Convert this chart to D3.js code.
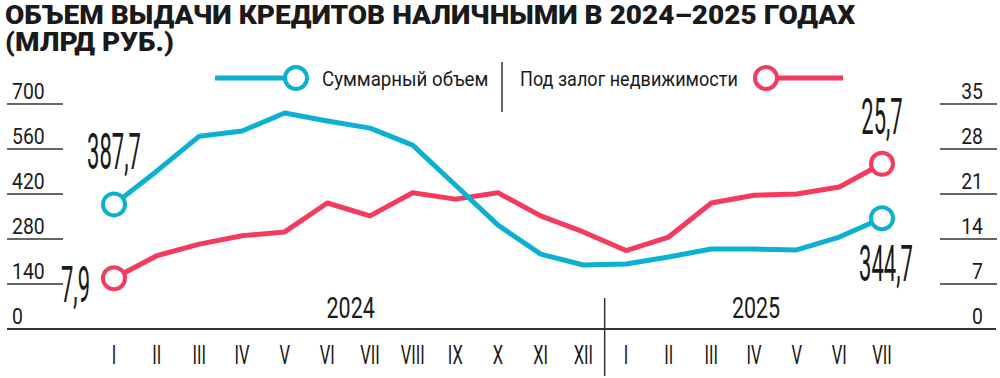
<!DOCTYPE html>
<html>
<head>
<meta charset="utf-8">
<script src="https://cdn.jsdelivr.net/npm/d3@7"></script>
<style>
  body { margin: 0; background: #fff; }
  svg { display: block; font-family: Roboto, "Noto Sans", sans-serif; }
  text { fill: #1a1a1a; }
</style>
</head>
<body>
<div id="chart"></div>
<script>
// month labels for Jan 2024 .. Jul 2025
const months = ["I", "II", "III", "IV", "V", "VI", "VII", "VIII", "IX", "X", "XI", "XII",
                "I", "II", "III", "IV", "V", "VI", "VII"];
const years = ["2024", "2025"];
// Суммарный объем, млрд руб. (left axis)
const totalVolume = [387.7, 491, 600, 616, 672, 647, 625, 572, 448, 323, 233, 199,
                     202, 224, 249, 249, 246, 286, 344.7];
// Под залог недвижимости, млрд руб. (right axis)
const secured = [7.9, 11.4, 13.2, 14.5, 15.1, 19.6, 17.6, 21.2, 20.2, 21.2, 17.6, 15.1,
                 12.2, 14.3, 19.6, 20.8, 21.0, 22.1, 25.7];
const leftTicks = [0, 140, 280, 420, 560, 700];
const rightTicks = [0, 7, 14, 21, 28, 35];

const BLUE = "#0bb0d2";
const RED = "#f43b5f";

let svg = d3.select("#chart")
    .append("svg")
    .attr("width", 1000)
    .attr("height", 378);

let x = d3.scaleLinear().domain([0, months.length - 1]).range([114, 882]);
let yL = d3.scaleLinear().domain([0, 700]).range([329, 104]);
let yR = d3.scaleLinear().domain([0, 35]).range([329, 104]);

// condensed text helper (squeeze horizontally around anchor point)
function ctext(g, str, px, py, size, sx, anchor, weight) {
    return g.append("text")
        .attr("transform", "translate(" + px + "," + py + ") scale(" + sx + ",1)")
        .attr("text-anchor", anchor || "start")
        .style("font-size", size + "px")
        .style("font-weight", weight || 400)
        .text(str);
}

// title
let title = svg.append("g");
ctext(title, "ОБЪЕМ ВЫДАЧИ КРЕДИТОВ НАЛИЧНЫМИ В 2024–2025 ГОДАХ", 5, 24, 25, 1.12, "start", 900);
ctext(title, "(МЛРД РУБ.)", 5, 51, 25, 1.12, "start", 900);

// axes: short gridlines with labels above them
let axes = svg.append("g");
leftTicks.forEach(function (t) {
    if (t > 0) {
        axes.append("line").attr("x1", 7).attr("x2", 63)
            .attr("y1", yL(t)).attr("y2", yL(t))
            .attr("stroke", "#333").attr("stroke-width", 1.6);
    }
    ctext(axes, t, 12, yL(t) - 5, 22, 0.88, "start", 400);
});
rightTicks.forEach(function (t) {
    if (t > 0) {
        axes.append("line").attr("x1", 940).attr("x2", 997)
            .attr("y1", yR(t)).attr("y2", yR(t))
            .attr("stroke", "#333").attr("stroke-width", 1.6);
    }
    ctext(axes, t, 983, yR(t) - 5, 22, 0.88, "end", 400);
});
// baseline
axes.append("line").attr("x1", 7).attr("x2", 996)
    .attr("y1", yL(0)).attr("y2", yL(0))
    .attr("stroke", "#333").attr("stroke-width", 2);

// year divider between XII and I
let divX = (x(11) + x(12)) / 2;
axes.append("line").attr("x1", divX).attr("x2", divX)
    .attr("y1", 298).attr("y2", 376)
    .attr("stroke", "#333").attr("stroke-width", 1.5);

ctext(axes, years[0], (x(0) + x(11)) / 2 + 2, 318, 29, 0.74, "middle", 400);
ctext(axes, years[1], (x(12) + x(18)) / 2 + 2, 318, 29, 0.74, "middle", 400);

months.forEach(function (m, i) {
    ctext(axes, m, x(i), 364, 25, 0.66, "middle", 400);
});

// lines
let lineL = d3.line().x((d, i) => x(i)).y(d => yL(d));
let lineR = d3.line().x((d, i) => x(i)).y(d => yR(d));

svg.append("path")
    .attr("d", lineR(secured))
    .attr("fill", "none").attr("stroke", RED)
    .attr("stroke-width", 5).attr("stroke-linejoin", "round");

svg.append("path")
    .attr("d", lineL(totalVolume))
    .attr("fill", "none").attr("stroke", BLUE)
    .attr("stroke-width", 5).attr("stroke-linejoin", "round");

// end point circles
let last = months.length - 1;
let ends = [
    { cx: x(0), cy: yL(totalVolume[0]), c: BLUE },
    { cx: x(last), cy: yL(totalVolume[last]), c: BLUE },
    { cx: x(0), cy: yR(secured[0]), c: RED },
    { cx: x(last), cy: yR(secured[last]), c: RED }
];
svg.append("g").selectAll("circle")
    .data(ends)
    .enter()
    .append("circle")
    .attr("cx", d => d.cx).attr("cy", d => d.cy).attr("r", 11)
    .attr("fill", "#fff").attr("stroke", d => d.c).attr("stroke-width", 4);

// value annotations
let fmt = v => String(v).replace(".", ",");
let ann = svg.append("g");
ctext(ann, fmt(totalVolume[0]), x(0), yL(totalVolume[0]) - 35, 50, 0.44, "middle", 400);
ctext(ann, fmt(secured[0]), x(0) - 24, yR(secured[0]) + 24, 50, 0.44, "end", 400);
ctext(ann, fmt(secured[last]), x(last), yR(secured[last]) - 30, 50, 0.44, "middle", 400);
ctext(ann, fmt(totalVolume[last]), x(last) + 4, yL(totalVolume[last]) + 63, 50, 0.44, "middle", 400);

// legend
let legend = svg.append("g");
legend.append("line").attr("x1", 215).attr("x2", 285).attr("y1", 78).attr("y2", 78)
    .attr("stroke", BLUE).attr("stroke-width", 5);
legend.append("circle").attr("cx", 296).attr("cy", 78).attr("r", 11)
    .attr("fill", "#fff").attr("stroke", BLUE).attr("stroke-width", 4);
ctext(legend, "Суммарный объем", 322, 86, 21, 0.89, "start", 400);

legend.append("line").attr("x1", 502).attr("x2", 502).attr("y1", 62).attr("y2", 112)
    .attr("stroke", "#333").attr("stroke-width", 1.5);

ctext(legend, "Под залог недвижимости", 520, 86, 21, 0.86, "start", 400);
legend.append("line").attr("x1", 776).attr("x2", 843).attr("y1", 78).attr("y2", 78)
    .attr("stroke", RED).attr("stroke-width", 5);
legend.append("circle").attr("cx", 766).attr("cy", 78).attr("r", 11)
    .attr("fill", "#fff").attr("stroke", RED).attr("stroke-width", 4);
</script>
</body>
</html>
